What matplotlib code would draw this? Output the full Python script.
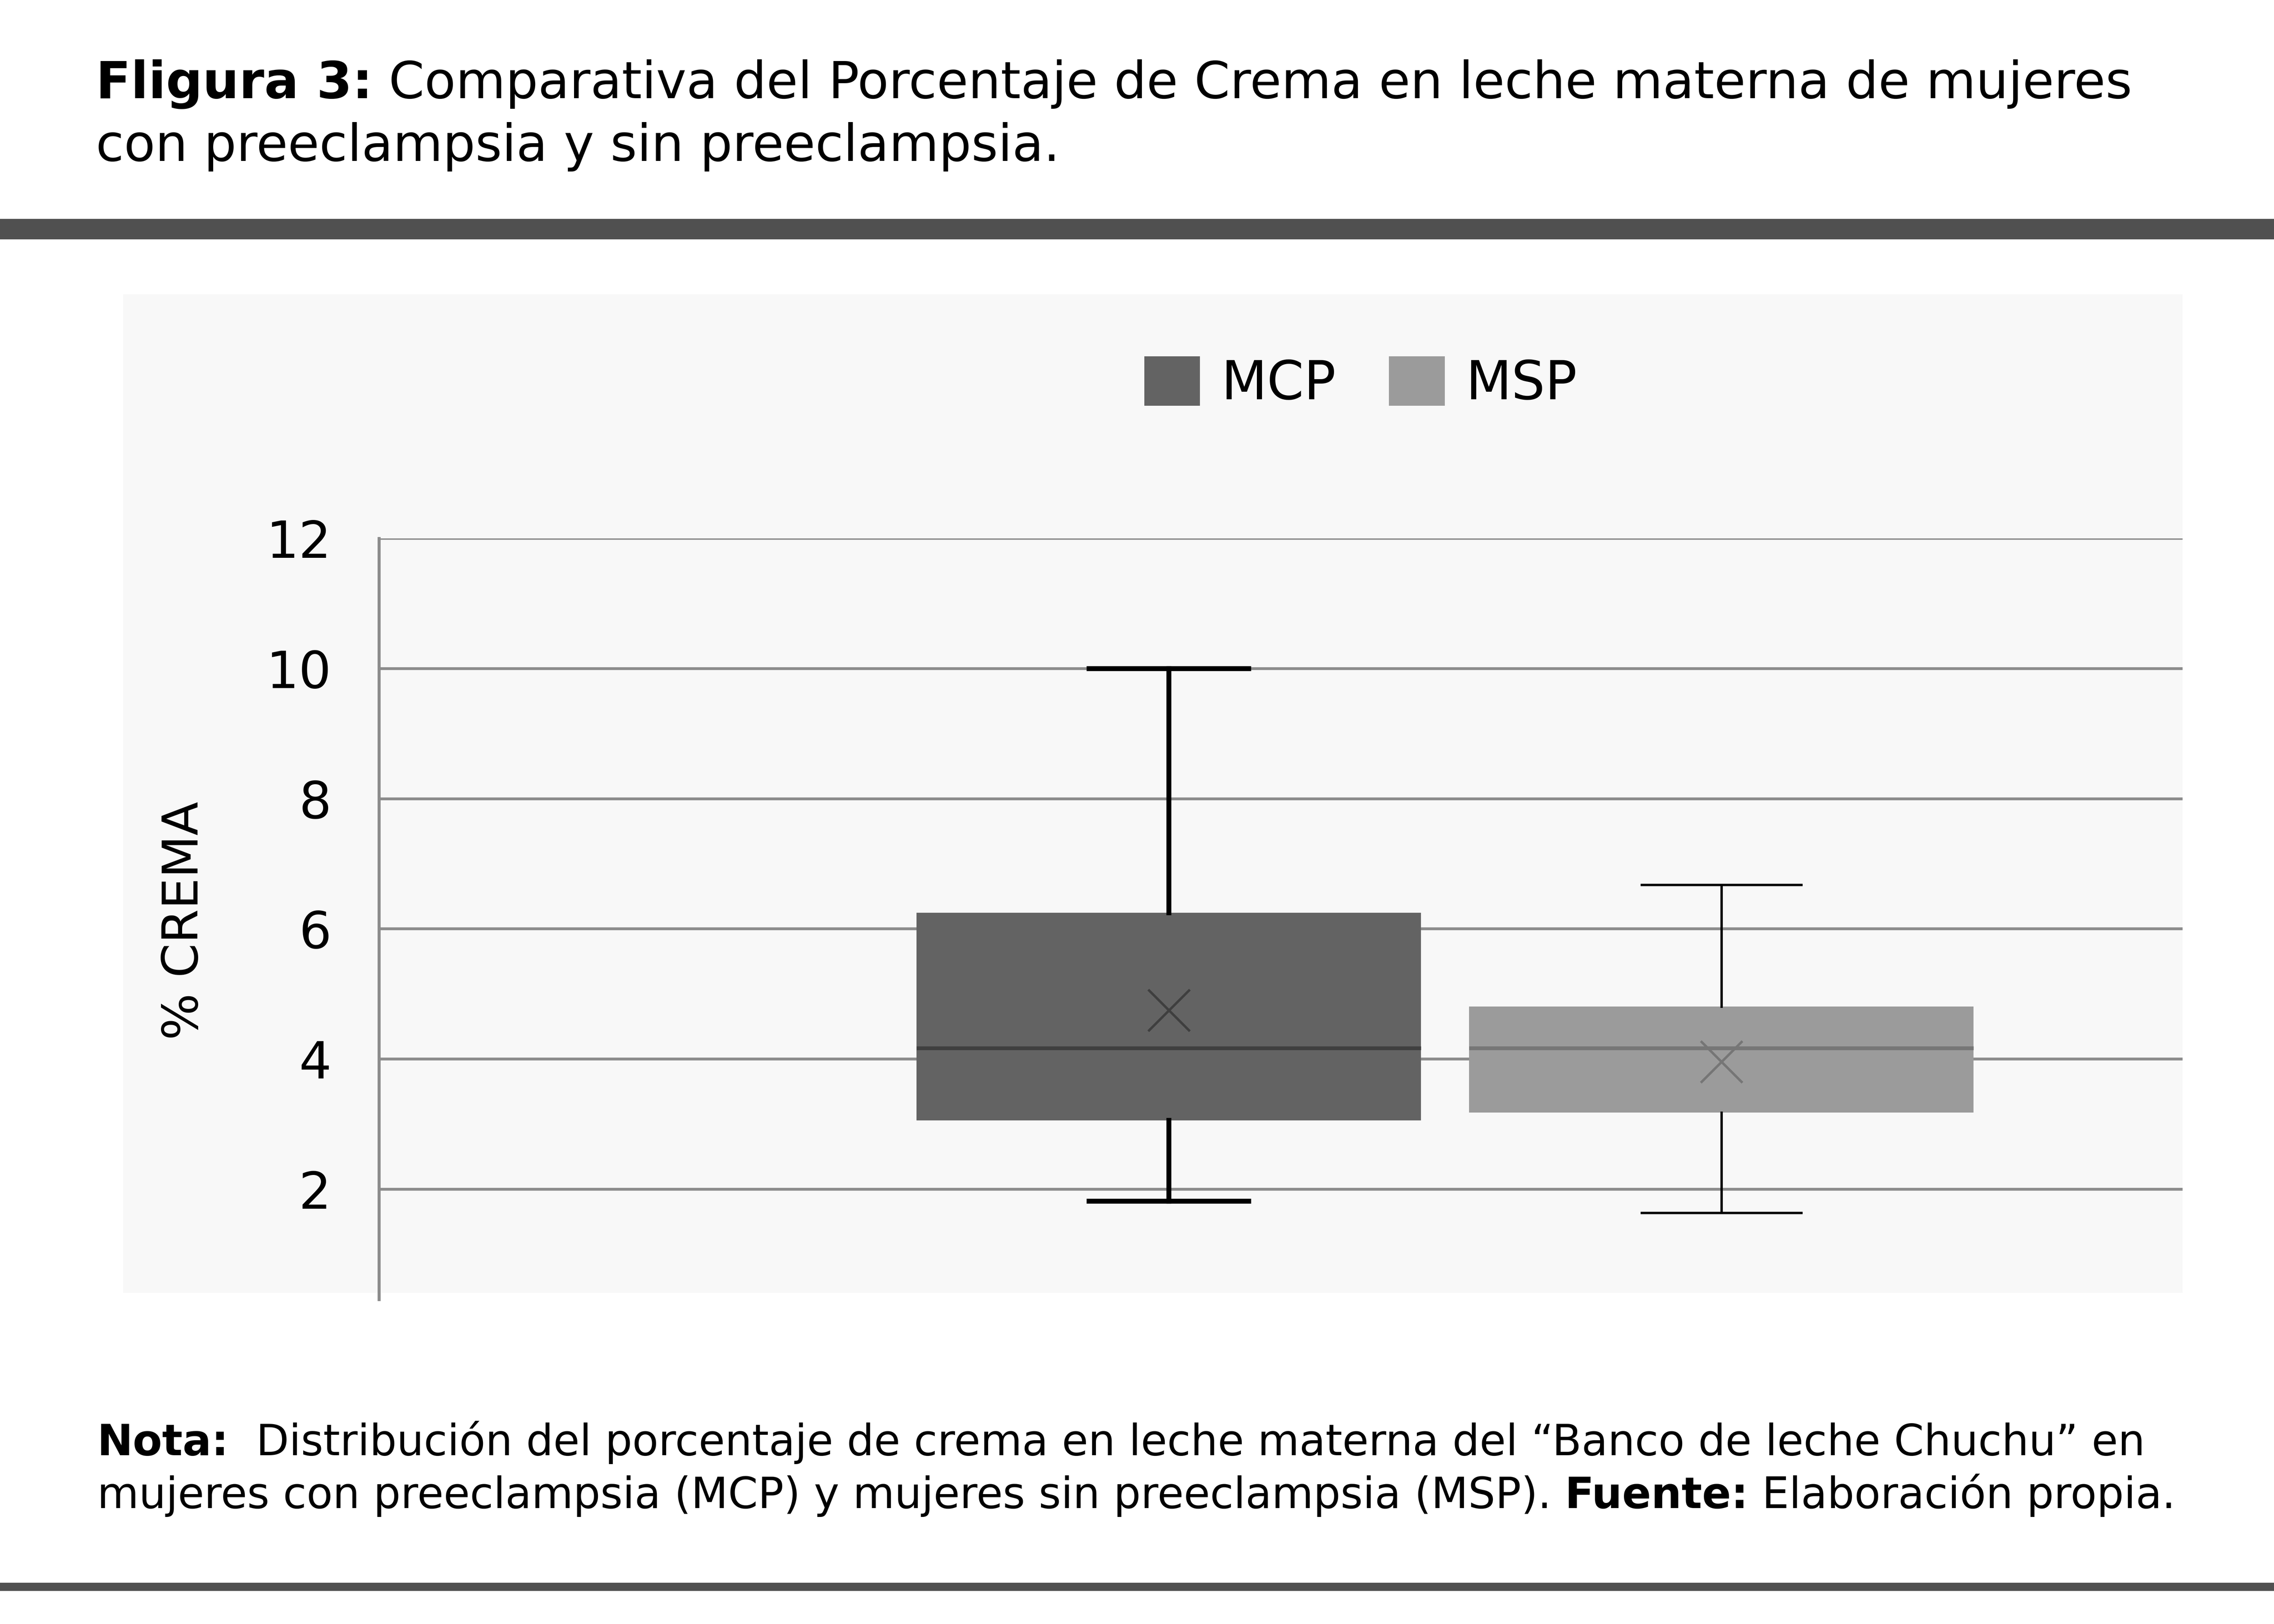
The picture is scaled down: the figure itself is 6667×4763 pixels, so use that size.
import matplotlib
matplotlib.use('Agg')
import matplotlib.pyplot as plt
from matplotlib.patches import Patch, Rectangle

plt.rcParams['font.family'] = ['DejaVu Sans']

# values
categorias = ['MCP', 'MSP']
minimos = [1.82, 1.64]
q1 = [3.06, 3.18]
medianas = [4.17, 4.17]
q3 = [6.25, 4.81]
maximos = [10.0, 6.68]
medias = [4.75, 3.96]
y_ticks = [2, 4, 6, 8, 10, 12]

colores_caja = ['#636363', '#9b9b9b']
colores_mediana = ['#3f3f3f', '#767676']
grosor_bigote = [2.6, 1.25]

W, H, DPI = 6667, 4763, 400


def rich_line(fig, x, y, parts, size):
    renderer = fig.canvas.get_renderer()
    for txt, weight in parts:
        t = fig.text(x, y, txt, fontsize=size, fontweight=weight,
                     va='baseline', ha='left', color='black')
        bb = t.get_window_extent(renderer)
        x += bb.width / fig.bbox.width


def main():
    fig = plt.figure(figsize=(W / DPI, H / DPI), dpi=DPI, facecolor='white')

    # chart area background and divider bars
    fig.patches.append(Rectangle((0.0541, 0.2038), 0.9598 - 0.0541, 0.8188 - 0.2038,
                                 transform=fig.transFigure, facecolor='#f8f8f8',
                                 edgecolor='none', zorder=-2))
    fig.patches.append(Rectangle((0, 0.8526), 1, 0.0126, transform=fig.transFigure,
                                 facecolor='#505050', edgecolor='none', zorder=-2))
    fig.patches.append(Rectangle((0, 0.0204), 1, 0.0050, transform=fig.transFigure,
                                 facecolor='#505050', edgecolor='none', zorder=-2))

    ax = fig.add_axes([0.1666, 0.1999, 0.9598 - 0.1666, 0.6685 - 0.1999])
    ax.set_facecolor('none')
    ax.set_zorder(2)

    for i, cat in enumerate(categorias):
        stats = [{
            'label': cat,
            'whislo': minimos[i], 'q1': q1[i], 'med': medianas[i],
            'q3': q3[i], 'whishi': maximos[i], 'mean': medias[i], 'fliers': [],
        }]
        ax.bxp(stats, positions=[i + 1], widths=0.913, capwidths=0.289,
               patch_artist=True, showmeans=True, showfliers=False,
               boxprops=dict(facecolor=colores_caja[i], edgecolor='none', linewidth=0),
               medianprops=dict(color=colores_mediana[i], linewidth=2.0),
               whiskerprops=dict(color='black', linewidth=grosor_bigote[i]),
               capprops=dict(color='black', linewidth=grosor_bigote[i]),
               meanprops=dict(marker='x', markersize=22, markeredgewidth=1.3,
                              markeredgecolor=colores_mediana[i]),
               zorder=3)

    ax.set_xlim(-0.430, 2.835)
    ax.set_ylim(0.31, 12)
    ax.set_yticks(y_ticks)
    ax.set_yticklabels([str(v) for v in y_ticks], fontsize=27)
    ax.set_xticks([])
    ax.tick_params(axis='y', length=0, pad=25)
    ax.yaxis.grid(True, color='#8c8c8c', linewidth=1.5)
    ax.set_axisbelow(True)
    for s in ['top', 'right', 'bottom']:
        ax.spines[s].set_visible(False)
    ax.spines['left'].set_color('#8c8c8c')
    ax.spines['left'].set_linewidth(1.6)

    fig.text(0.081, 0.433, '% CREMA', rotation=90, fontsize=26,
             ha='center', va='center')

    handles = [Patch(facecolor=c, edgecolor='none') for c in colores_caja]
    fig.legend(handles, categorias, loc='center', bbox_to_anchor=(0.5984, 0.7639),
               ncol=2, frameon=False, fontsize=28, handlelength=1.05,
               handleheight=1.05, handletextpad=0.4, columnspacing=1.0)

    rich_line(fig, 0.0421, 0.9395,
              [('Fligura 3:', 'bold'),
               (' Comparativa del Porcentaje de Crema en leche materna de mujeres', 'normal')], 27)
    rich_line(fig, 0.0421, 0.9009,
              [('con preeclampsia y sin preeclampsia.', 'normal')], 27)

    rich_line(fig, 0.0427, 0.1039,
              [('Nota:', 'bold'),
               ('  Distribución del porcentaje de crema en leche materna del '
                '“Banco de leche Chuchu” en', 'normal')], 22.6)
    rich_line(fig, 0.0427, 0.0714,
              [('mujeres con preeclampsia (MCP) y mujeres sin preeclampsia (MSP). ', 'normal'),
               ('Fuente:', 'bold'),
               (' Elaboración propia.', 'normal')], 22.6)

    fig.savefig('out.png', dpi=DPI, facecolor='white')


if __name__ == '__main__':
    main()
